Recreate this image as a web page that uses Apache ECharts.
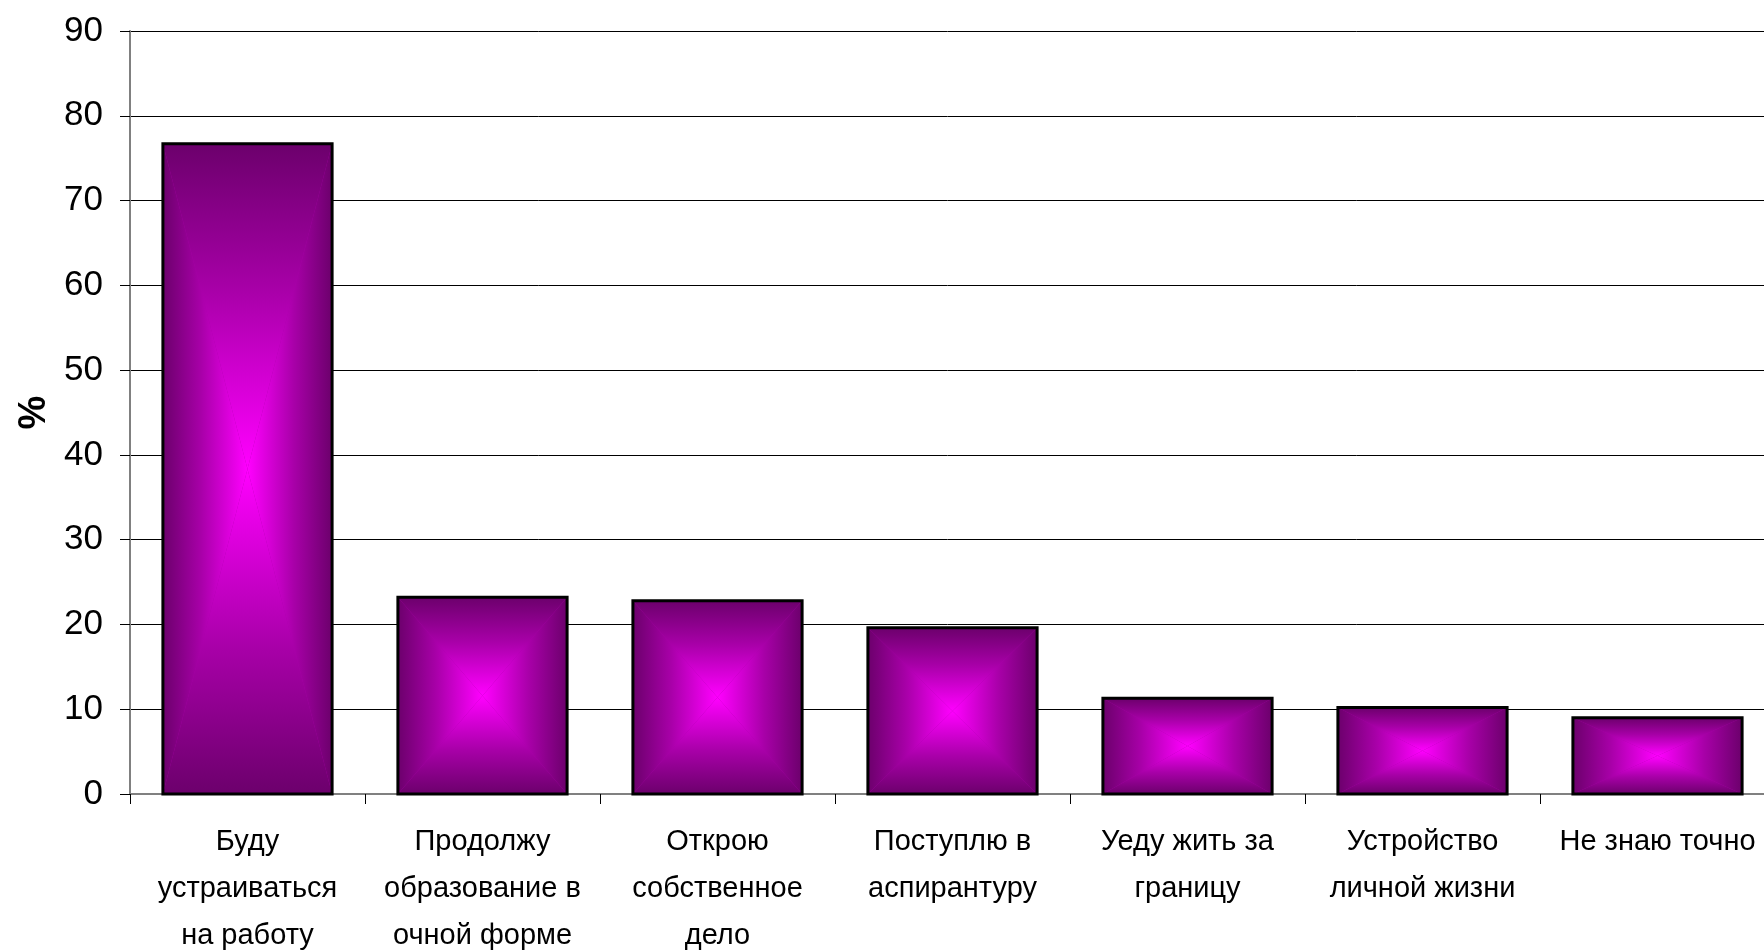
<!DOCTYPE html>
<html>
<head>
<meta charset="utf-8">
<script src="https://cdn.jsdelivr.net/npm/echarts@6/dist/echarts.min.js"></script>
<style>
html,body{margin:0;padding:0;background:#fff;}
#chart{width:1764px;height:952px;}
</style>
</head>
<body>
<div id="chart"></div>
<script>
const categories = [
  'Буду\nустраиваться\nна работу',
  'Продолжу\nобразование в\nочной форме',
  'Открою\nсобственное\nдело',
  'Поступлю в\nаспирантуру',
  'Уеду жить за\nграницу',
  'Устройство\nличной жизни',
  'Не знаю точно'
];
const values = [76.7, 23.2, 22.8, 19.6, 11.3, 10.2, 9.0];
const yTicks = { min: 0, max: 90, interval: 10 };
const yAxisName = '%';

const EDGE = '#6c006c';
const MID = '#a800a8';
const CENTER = '#ff00ff';
const stops = [
  { offset: 0, color: EDGE },
  { offset: 0.45, color: MID },
  { offset: 1, color: CENTER }
];

const chart = echarts.init(document.getElementById('chart'), null, { renderer: 'canvas' });
const FONT = '"Liberation Sans", Arial, sans-serif';

function renderItem(params, api) {
  const idx = api.value(0);
  const v = api.value(1);
  const base = api.coord([idx, 0]);
  const top = api.coord([idx, v]);
  const bw = api.size([1, 0])[0] * 0.72;
  const x0 = top[0] - bw / 2, x1 = top[0] + bw / 2;
  const y0 = top[1], y1 = base[1];
  const cx = top[0], cy = (y0 + y1) / 2;
  const LG = echarts.graphic.LinearGradient;
  return {
    type: 'group',
    children: [
      { type: 'rect', shape: { x: x0, y: y0, width: bw, height: y1 - y0 }, style: { fill: MID } },
      { type: 'polygon', shape: { points: [[x0, y0], [x1, y0], [cx, cy]] }, style: { fill: new LG(0, 0, 0, 1, stops) } },
      { type: 'polygon', shape: { points: [[x0, y1], [x1, y1], [cx, cy]] }, style: { fill: new LG(0, 1, 0, 0, stops) } },
      { type: 'polygon', shape: { points: [[x0, y0], [x0, y1], [cx, cy]] }, style: { fill: new LG(0, 0, 1, 0, stops) } },
      { type: 'polygon', shape: { points: [[x1, y0], [x1, y1], [cx, cy]] }, style: { fill: new LG(1, 0, 0, 0, stops) } },
      { type: 'rect', shape: { x: x0, y: y0, width: bw, height: y1 - y0 }, style: { fill: null, stroke: '#000', lineWidth: 3 } }
    ]
  };
}

const option = {
  animation: false,
  backgroundColor: '#fff',
  textStyle: { fontFamily: FONT },
  grid: { left: 130, top: 31, width: 1645, height: 763, containLabel: false, outerBoundsMode: 'none' },
  xAxis: {
    type: 'category',
    data: categories,
    boundaryGap: true,
    axisLine: { show: true, lineStyle: { color: '#808080', width: 2 } },
    axisTick: { show: true, length: 10, alignWithLabel: false, lineStyle: { color: '#000', width: 1 } },
    axisLabel: { interval: 0, color: '#000', fontSize: 29, lineHeight: 47, margin: 24, fontFamily: FONT, align: 'center' },
    splitLine: { show: false }
  },
  yAxis: {
    type: 'value',
    min: yTicks.min, max: yTicks.max, interval: yTicks.interval,
    name: yAxisName,
    nameLocation: 'middle',
    nameGap: 76,
    nameRotate: 90,
    nameTextStyle: { color: '#000', fontSize: 38, fontWeight: 'bold', fontFamily: FONT },
    axisLine: { show: true, lineStyle: { color: '#808080', width: 2 } },
    axisTick: { show: true, length: 10, lineStyle: { color: '#000', width: 1 } },
    axisLabel: { color: '#000', fontSize: 35, margin: 27, fontFamily: FONT },
    splitLine: { show: true, lineStyle: { color: '#000', width: 1 } }
  },
  series: [{
    type: 'custom',
    renderItem: renderItem,
    encode: { x: 0, y: 1 },
    data: values.map((v, i) => [i, v]),
    z: 3
  }]
};
chart.setOption(option);
</script>
</body>
</html>
